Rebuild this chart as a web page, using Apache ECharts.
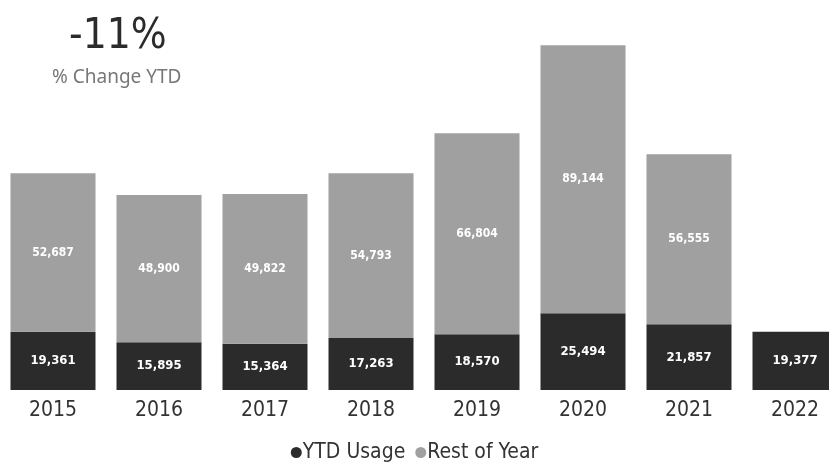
<!DOCTYPE html>
<html>
<head>
<meta charset="utf-8">
<script src="https://cdn.jsdelivr.net/npm/echarts@6/dist/echarts.min.js"></script>
<style>
  html, body { margin: 0; padding: 0; background: #fff; }
  #chart { width: 829px; height: 464px; }
</style>
</head>
<body>
<div id="chart"></div>
<script>
const years = ['2015', '2016', '2017', '2018', '2019', '2020', '2021', '2022'];
const ytdUsage = [19361, 15895, 15364, 17263, 18570, 25494, 21857, 19377];
const restOfYear = [52687, 48900, 49822, 54793, 66804, 89144, 56555, null];
const headline = '-11%';
const headlineSub = '% Change YTD';

const font = '"Liberation Sans Narrow", "DejaVu Sans Condensed", sans-serif';
const chart = echarts.init(document.getElementById('chart'));

chart.setOption({
    animation: false,
    title: [
        {
            text: headline,
            left: 64,
            top: 11,
            textStyle: { fontSize: 42, fontWeight: 'normal', color: '#2b2b2b', fontFamily: font }
        },
        {
            text: headlineSub,
            left: 47,
            top: 63,
            textStyle: { fontSize: 19, fontWeight: 'normal', color: '#777', fontFamily: '"Noto Sans", sans-serif' }
        }
    ],
    legend: {
        bottom: -4,
        left: 'center',
        icon: 'circle',
        itemWidth: 11,
        itemHeight: 11,
        itemGap: 10,
        textStyle: { fontSize: 21, color: '#333', fontFamily: font, padding: [0, 0, 0, -4] },
        data: ['YTD Usage', 'Rest of Year']
    },
    grid: {
        left: 0,
        width: 848,
        top: 20,
        bottom: 74,
        outerBoundsMode: 'none'
    },
    xAxis: {
        type: 'category',
        data: years,
        axisLine: { show: false },
        axisTick: { show: false },
        axisLabel: { fontSize: 21, color: '#333', fontFamily: font, margin: 10 }
    },
    yAxis: {
        type: 'value',
        min: 0,
        max: 123000,
        show: false,
        splitLine: { show: false }
    },
    series: [
        {
            name: 'YTD Usage',
            type: 'bar',
            stack: 'total',
            barWidth: 85,
            itemStyle: { color: '#2b2b2b' },
            label: {
                show: true,
                position: 'inside',
                color: '#fff',
                fontSize: 13,
                fontWeight: 'bold',
                fontFamily: font,
                formatter: p => p.value.toLocaleString('en-US')
            },
            data: ytdUsage
        },
        {
            name: 'Rest of Year',
            type: 'bar',
            stack: 'total',
            barWidth: 85,
            itemStyle: { color: '#a0a0a0' },
            label: {
                show: true,
                position: 'inside',
                color: '#fff',
                fontSize: 12,
                fontWeight: 'bold',
                fontFamily: font,
                formatter: p => p.value == null ? '' : p.value.toLocaleString('en-US')
            },
            data: restOfYear
        }
    ]
});
</script>
</body>
</html>
